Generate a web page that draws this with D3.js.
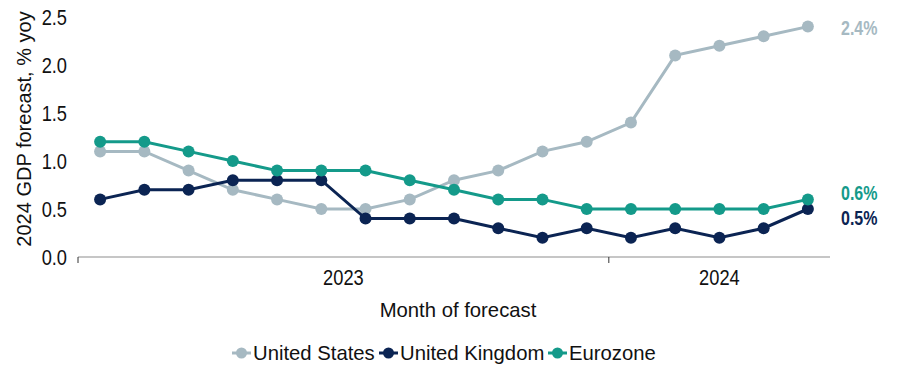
<!DOCTYPE html>
<html>
<head>
<meta charset="utf-8">
<script src="https://cdn.jsdelivr.net/npm/d3@7"></script>
<style>
  html, body { margin: 0; padding: 0; background: #fff; }
  svg text { font-family: "Liberation Sans", Arial, Helvetica, sans-serif; }
</style>
</head>
<body>
<svg id="chart" width="897" height="370"></svg>
<script>
// Month of forecast: Jan 2023 .. May 2024
const months = ["2023-01","2023-02","2023-03","2023-04","2023-05","2023-06","2023-07","2023-08",
                "2023-09","2023-10","2023-11","2023-12","2024-01","2024-02","2024-03","2024-04","2024-05"];
const usValues = [1.1,1.1,0.9,0.7,0.6,0.5,0.5,0.6,0.8,0.9,1.1,1.2,1.4,2.1,2.2,2.3,2.4];
const ukValues = [0.6,0.7,0.7,0.8,0.8,0.8,0.4,0.4,0.4,0.3,0.2,0.3,0.2,0.3,0.2,0.3,0.5];
const ezValues = [1.2,1.2,1.1,1.0,0.9,0.9,0.9,0.8,0.7,0.6,0.6,0.5,0.5,0.5,0.5,0.5,0.6];
const seriesNames = ["United States","United Kingdom","Eurozone"];
const seriesColors = ["#a6b9c2","#0b2453","#149a8a"];
const yTicks = [0,0.5,1.0,1.5,2.0,2.5];
const years = ["2023","2024"];

const series = [usValues, ukValues, ezValues].map((v, i) => ({
  name: seriesNames[i], color: seriesColors[i], values: v
}));

const svg = d3.select("#chart");
const plotLeft = 78, plotRight = 830, plotTop = 17, plotBottom = 257;

const x = d3.scaleBand().domain(months).range([plotLeft, plotRight]);
const y = d3.scaleLinear().domain([0, 2.5]).range([plotBottom, plotTop]);
const cx = m => x(m) + x.bandwidth() / 2;

// numeric labels use a narrower set of figures
const narrowText = (parent, tx, ty, sx) =>
  parent.append("g").attr("transform", `translate(${tx},${ty}) scale(${sx},1)`).append("text");

// y tick labels
const yAxisG = svg.append("g");
yTicks.forEach(t => {
  narrowText(yAxisG, 67, y(t), 0.83)
    .attr("dy", "0.36em").attr("text-anchor", "end")
    .attr("font-size", 22).attr("fill", "#111")
    .text(t.toFixed(1));
});

// y axis title
svg.append("text")
  .attr("transform", `translate(31,129) rotate(-90)`)
  .attr("text-anchor", "middle").attr("font-size", 20).attr("fill", "#111")
  .text("2024 GDP forecast, % yoy");

// x baseline and year divider ticks
svg.append("line").attr("x1", plotLeft).attr("x2", plotRight)
  .attr("y1", plotBottom).attr("y2", plotBottom)
  .attr("stroke", "#b3b3b3").attr("stroke-width", 1.5);
const boundaries = [plotLeft, x("2024-01"), plotRight];
svg.append("g").selectAll("line").data([plotLeft, x("2024-01")]).join("line")
  .attr("x1", d => d).attr("x2", d => d).attr("y1", plotBottom).attr("y2", plotBottom + 6)
  .attr("stroke", "#333").attr("stroke-width", 1);
const yearG = svg.append("g");
years.forEach((yr, i) => {
  narrowText(yearG, (boundaries[i] + boundaries[i + 1]) / 2, 285, 0.83)
    .attr("text-anchor", "middle").attr("font-size", 22).attr("fill", "#111").text(yr);
});

svg.append("text").attr("x", 458).attr("y", 317).attr("text-anchor", "middle")
  .attr("font-size", 20.3).attr("fill", "#111").text("Month of forecast");

// lines + markers
const line = d3.line().x((d, i) => cx(months[i])).y(d => y(d));
const g = svg.append("g");
series.forEach(s => {
  g.append("path").datum(s.values).attr("d", line)
    .attr("fill", "none").attr("stroke", s.color).attr("stroke-width", 3);
  g.append("g").selectAll("circle").data(s.values).join("circle")
    .attr("cx", (d, i) => cx(months[i])).attr("cy", d => y(d)).attr("r", 6)
    .attr("fill", s.color);
});

// end-of-series value labels
const lastIdx = months.length - 1;
const labelOffsets = [1, 9, -7];
const valG = svg.append("g");
series.forEach((s, i) => {
  const v = s.values[lastIdx];
  narrowText(valG, 841, y(v) + labelOffsets[i], 0.8)
    .attr("dy", "0.36em").attr("font-size", 20).attr("font-weight", "bold")
    .attr("fill", s.color).text(v.toFixed(1) + "%");
});

// legend
const legendX = [232, 379, 548];
const lg = svg.append("g");
series.forEach((s, i) => {
  const gx = legendX[i], gy = 353;
  lg.append("line").attr("x1", gx).attr("x2", gx + 19).attr("y1", gy).attr("y2", gy)
    .attr("stroke", s.color).attr("stroke-width", 3);
  lg.append("circle").attr("cx", gx + 9.5).attr("cy", gy).attr("r", 5.5).attr("fill", s.color);
  lg.append("text").attr("x", gx + 21).attr("y", gy).attr("dy", "0.36em")
    .attr("font-size", 20.3).attr("fill", "#111").text(s.name);
});
</script>
</body>
</html>
